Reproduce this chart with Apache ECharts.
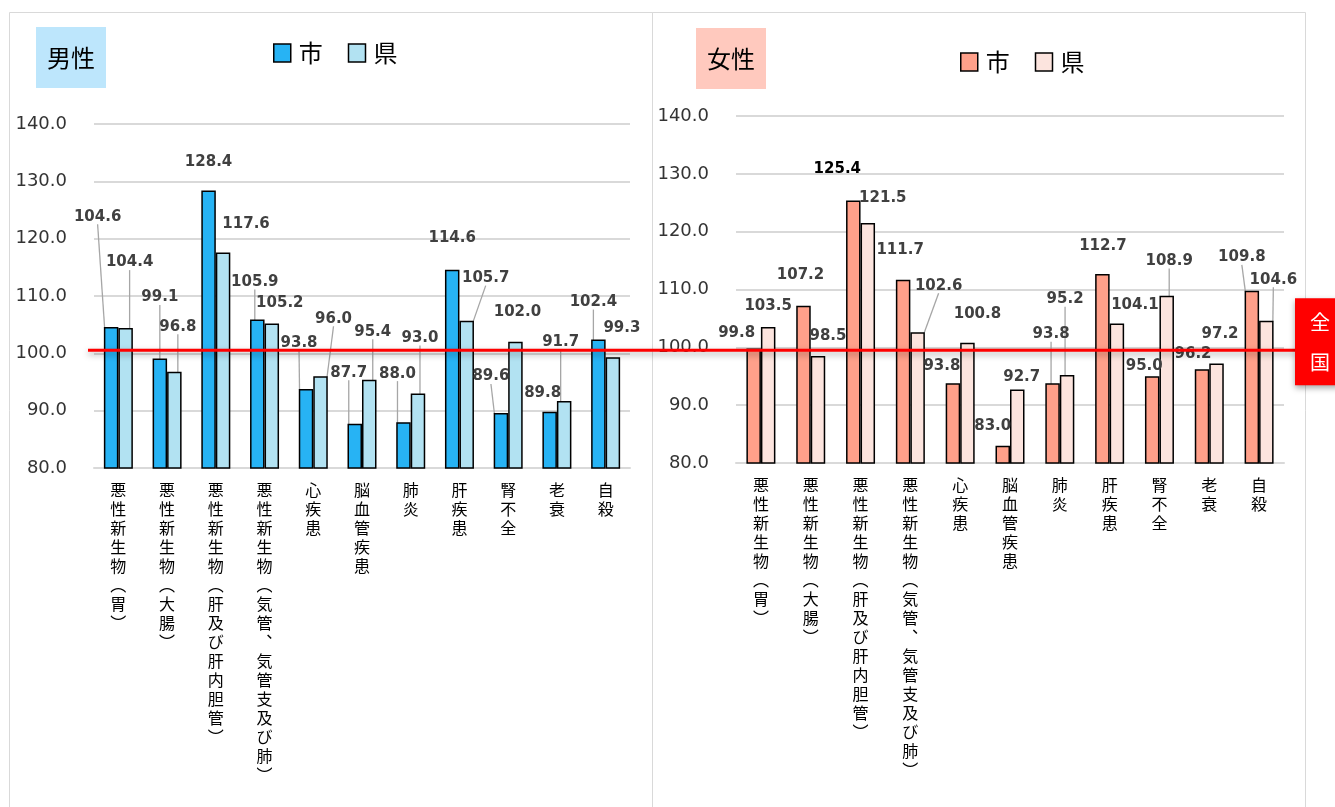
<!DOCTYPE html>
<html>
<head>
<meta charset="utf-8">
<script src="https://cdn.jsdelivr.net/npm/echarts@6/dist/echarts.min.js"></script>
<style>
  html, body { margin: 0; padding: 0; background: #fff; }
  #main { width: 1335px; height: 807px; }
</style>
</head>
<body>
<div id="main"></div>
<script>
var categories = ['悪性新生物（胃）', '悪性新生物（大腸）', '悪性新生物（肝及び肝内胆管）', '悪性新生物（気管、気管支及び肺）',
  '心疾患', '脳血管疾患', '肺炎', '肝疾患', '腎不全', '老衰', '自殺'];
var maleCity = [104.6, 99.1, 128.4, 105.9, 93.8, 87.7, 88.0, 114.6, 89.6, 89.8, 102.4];
var malePref = [104.4, 96.8, 117.6, 105.2, 96.0, 95.4, 93.0, 105.7, 102.0, 91.7, 99.3];
var femaleCity = [99.8, 107.2, 125.4, 111.7, 93.8, 83.0, 93.8, 112.7, 95.0, 96.2, 109.8];
var femalePref = [103.5, 98.5, 121.5, 102.6, 100.8, 92.7, 95.2, 104.1, 108.9, 97.2, 104.6];
var yMin = 80, yMax = 140, yStep = 10;
var nationalLevel = 100;

// where each data label was dragged to, relative to its default spot above the bar
var maleCityOff = [[-13.5, -102.7], [0, -53.5], [0, -21], [-2.5, -30], [-7, -38.6], [-6, -43.6], [-6, -41], [0, -24], [-10, -29], [-7, -11.5], [-5, -30]];
var malePrefOff = [[4, -58], [3.5, -37.4], [23, -21], [8, -13], [13, -50], [3.5, -40.4], [2, -48], [19, -35], [2, -22], [-3.5, -51.6], [9, -22]];
var femaleCityOff = [[-17, -8], [-3, -23.4], [-16, -23.5], [-3, -22], [-11, -9.7], [-10, -12], [-1.5, -41.4], [0.5, -20.7], [-8, -2.5], [-9, -7.6], [-10, -25.8]];
var femalePrefOff = [[0, -13.5], [10, -12.6], [15, -17.7], [21, -39], [10, -21], [4.5, -5], [-2, -68.3], [18, -11], [2.5, -27.3], [3.5, -21.8], [7, -33.4]];
var maleCityLine = [1, 1, 0, 1, 1, 1, 1, 0, 1, 0, 1];
var malePrefLine = [1, 1, 0, 0, 1, 1, 1, 1, 0, 1, 0];
var femaleCityLine = [0, 0, 0, 0, 0, 0, 1, 0, 0, 0, 1];
var femalePrefLine = [0, 0, 0, 1, 0, 0, 1, 0, 1, 0, 1];
var offsets = [maleCityOff, malePrefOff, femaleCityOff, femalePrefOff];

var jp = '"Noto Sans CJK JP", "Noto Sans", sans-serif';
var num = '"DejaVu Sans", Verdana, sans-serif';

function toItems(values, lines, boldIndex) {
  return values.map(function (v, i) {
    var item = { value: v, labelLine: { show: !!lines[i] } };
    if (i === boldIndex) item.label = { color: '#000' };
    return item;
  });
}

function vertical(s) {
  return s.replace(/（/g, '︵').replace(/）/g, '︶').replace(/、/g, '︑').split('').join('\n');
}

function xAxisFor(grid) {
  return {
    type: 'category', gridIndex: grid, data: categories,
    axisLine: { lineStyle: { color: '#d9d9d9', width: 2 } },
    axisTick: { show: false },
    axisLabel: {
      interval: 0, margin: 12, formatter: vertical, verticalAlign: 'top',
      fontFamily: jp, fontSize: 16, lineHeight: 19, color: '#000'
    }
  };
}

function yAxisFor(grid) {
  return {
    type: 'value', gridIndex: grid, min: yMin, max: yMax, interval: yStep,
    axisLine: { show: false }, axisTick: { show: false },
    splitLine: { lineStyle: { color: '#d9d9d9', width: 2 } },
    axisLabel: {
      margin: 27, fontFamily: num, fontSize: 18, color: '#333',
      formatter: function (v) { return v.toFixed(1); }
    }
  };
}

function barSeries(name, grid, values, lines, color, boldIndex) {
  return {
    name: name, type: 'bar', xAxisIndex: grid, yAxisIndex: grid,
    data: toItems(values, lines, boldIndex),
    barWidth: 14.5, barGap: '0%',
    itemStyle: { color: color, borderColor: '#000', borderWidth: 1.5 },
    label: {
      show: true, position: 'top', distance: 0,
      fontFamily: num, fontSize: 15, fontWeight: 'bold', color: '#404040',
      formatter: function (p) { return p.value.toFixed(1); }
    },
    labelLine: { lineStyle: { color: '#a6a6a6', width: 1.3 } },
    labelLayout: function (p) {
      var o = offsets[p.seriesIndex][p.dataIndex];
      return { dx: o[0], dy: o[1] };
    }
  };
}

function legendFor(names, left, top) {
  return {
    data: names, left: left, top: top, padding: 0,
    icon: 'rect', itemWidth: 17, itemHeight: 18, itemGap: 25,
    itemStyle: { borderColor: '#000', borderWidth: 1.5 },
    formatter: function (n) { return n.slice(2); },
    textStyle: { fontFamily: jp, fontSize: 24, color: '#000', padding: [0, 0, 0, 3] }
  };
}

function titleFor(text, left, top, bg) {
  return {
    text: text, left: left, top: top, backgroundColor: bg, padding: [18, 11],
    textStyle: { fontFamily: jp, fontSize: 24, fontWeight: 'normal', color: '#000', lineHeight: 25 }
  };
}

var chart = echarts.init(document.getElementById('main'));
chart.setOption({
  animation: false,
  backgroundColor: '#fff',
  title: [titleFor('男性', 36, 27, '#BDE6FC'), titleFor('女性', 696, 28, '#FFC9BE')],
  legend: [legendFor(['男性市', '男性県'], 273, 41), legendFor(['女性市', '女性県'], 960, 50)],
  grid: [
    { left: 94, right: 705, top: 124, bottom: 339 },
    { left: 736, right: 51, top: 116, bottom: 344 }
  ],
  xAxis: [xAxisFor(0), xAxisFor(1)],
  yAxis: [yAxisFor(0), yAxisFor(1)],
  series: [
    barSeries('男性市', 0, maleCity, maleCityLine, '#27B3F4'),
    barSeries('男性県', 0, malePref, malePrefLine, '#B2E2F2'),
    barSeries('女性市', 1, femaleCity, femaleCityLine, '#FFA08A', 2),
    barSeries('女性県', 1, femalePref, femalePrefLine, '#FCE4DE')
  ]
});

// national level line across both panels, plus the 全国 tag on the right
var yL = chart.convertToPixel({ yAxisIndex: 0 }, nationalLevel);
var yR = chart.convertToPixel({ yAxisIndex: 1 }, nationalLevel);
var lineY = (yL + yR) / 2;
var shadow = { shadowBlur: 6, shadowOffsetY: 3, shadowColor: 'rgba(0,0,0,0.35)' };

chart.setOption({
  graphic: [
    { type: 'rect', z: -10, shape: { x: 9.5, y: 12.5, width: 643, height: 800 }, style: { fill: 'none', stroke: '#d9d9d9', lineWidth: 1 } },
    { type: 'rect', z: -10, shape: { x: 652.5, y: 12.5, width: 653, height: 800 }, style: { fill: 'none', stroke: '#d9d9d9', lineWidth: 1 } },
    { type: 'line', z: 50, shape: { x1: 88, y1: lineY, x2: 1296, y2: lineY },
      style: Object.assign({ stroke: '#FF0000', lineWidth: 3 }, shadow) },
    { type: 'rect', z: 50, shape: { x: 1295, y: lineY - 52, width: 45, height: 87 },
      style: Object.assign({ fill: '#FF0000' }, shadow) },
    { type: 'text', z: 51, x: 1320, y: lineY - 8, style: {
      text: '全\n国', fill: '#fff', font: '20px ' + jp, lineHeight: 40,
      align: 'center', verticalAlign: 'middle' } }
  ]
});
</script>
</body>
</html>
